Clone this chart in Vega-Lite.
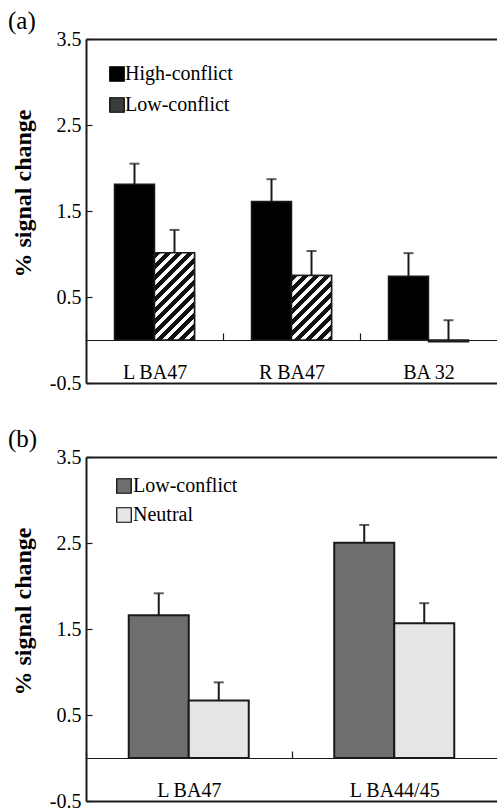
{
  "$schema": "https://vega.github.io/schema/vega-lite/v6.json",
  "background": "white",
  "padding": {"left": 8, "top": 9, "right": 0, "bottom": 0},
  "spacing": 34,
  "resolve": {"scale": {"fill": "independent", "xOffset": "independent"}},
  "datasets": {
    "a": [
      {"region": "L BA47", "condition": "High-conflict", "value": 1.81, "upper": 2.05},
      {"region": "L BA47", "condition": "Low-conflict", "value": 1.015, "upper": 1.28},
      {"region": "R BA47", "condition": "High-conflict", "value": 1.61, "upper": 1.87},
      {"region": "R BA47", "condition": "Low-conflict", "value": 0.75, "upper": 1.035},
      {"region": "BA 32", "condition": "High-conflict", "value": 0.74, "upper": 1.01},
      {"region": "BA 32", "condition": "Low-conflict", "value": -0.02, "upper": 0.23}
    ],
    "b": [
      {"region": "L BA47", "condition": "Low-conflict", "value": 1.66, "upper": 1.915},
      {"region": "L BA47", "condition": "Neutral", "value": 0.67, "upper": 0.88},
      {"region": "L BA44/45", "condition": "Low-conflict", "value": 2.503, "upper": 2.71},
      {"region": "L BA44/45", "condition": "Neutral", "value": 1.566, "upper": 1.8}
    ]
  },
  "vconcat": [
    {
      "title": {"text": "(a)"},
      "width": 411,
      "height": 344,
      "data": {"name": "a"},
      "resolve": {"axis": {"x": "independent"}},
      "layer": [
        {
          "mark": {"type": "bar", "stroke": "#1a1a1a", "strokeWidth": 1.5},
          "encoding": {
            "x": {"field": "region", "type": "nominal", "sort": ["L BA47", "R BA47", "BA 32"],
                  "scale": {"paddingInner": 0.416, "paddingOuter": 0.208},
                  "axis": {"orient": "bottom", "offset": -43, "title": null, "labelAngle": 0, "tickOffset": -68.5, "labelOffset": 68.5, "tickSize": -7, "labelPadding": 29, "domainWidth": 1.2, "labelBaseline": "top"}},
            "xOffset": {"field": "condition", "type": "nominal", "sort": ["High-conflict", "Low-conflict"],
                        "scale": {"domain": ["High-conflict", "Low-conflict"], "paddingInner": 0, "paddingOuter": 0}},
            "y": {"field": "value", "type": "quantitative",
                  "scale": {"domain": [-0.5, 3.5], "nice": false},
                  "axis": {"values": [-0.5, 0.5, 1.5, 2.5, 3.5], "format": ".1f", "labelExpr": "replace(datum.label, '\u2212', '-')", "tickSize": -6, "labelPadding": 11, "domainWidth": 2,
                           "title": "% signal change", "titleFontSize": 24, "titleFontWeight": "bold", "titleX": -56, "titleY": 154, "titleBaseline": "alphabetic", "titleAngle": -90}},
            "y2": {"datum": 0},
            "fill": {"field": "condition", "type": "nominal",
                     "scale": {"domain": ["High-conflict", "Low-conflict"], "range": ["#000000", "#3c3c3c"]},
                     "legend": {"title": null, "orient": "none", "legendX": 21, "legendY": 25, "symbolType": "square", "symbolSize": 210,
                                "rowPadding": 11, "labelOffset": -2, "symbolStrokeColor": "#000", "symbolStrokeWidth": 1.2}}
          }
        },
        {
          "transform": [{"filter": "datum.region === 'L BA47' && datum.condition === 'Low-conflict'"}],
          "mark": {"type": "bar", "stroke": "#1a1a1a", "strokeWidth": 1.5,
                   "fill": {"gradient": "linear", "x1": 0, "y1": 0, "x2": 0.547, "y2": 1.206, "stops": [
                     {"offset": 0, "color": "#111"}, {"offset": 0.0477, "color": "#111"}, {"offset": 0.0477, "color": "#fff"}, {"offset": 0.0867, "color": "#fff"},
                     {"offset": 0.0867, "color": "#111"}, {"offset": 0.1344, "color": "#111"}, {"offset": 0.1344, "color": "#fff"}, {"offset": 0.1734, "color": "#fff"},
                     {"offset": 0.1734, "color": "#111"}, {"offset": 0.2211, "color": "#111"}, {"offset": 0.2211, "color": "#fff"}, {"offset": 0.2601, "color": "#fff"},
                     {"offset": 0.2601, "color": "#111"}, {"offset": 0.3078, "color": "#111"}, {"offset": 0.3078, "color": "#fff"}, {"offset": 0.3468, "color": "#fff"},
                     {"offset": 0.3468, "color": "#111"}, {"offset": 0.3945, "color": "#111"}, {"offset": 0.3945, "color": "#fff"}, {"offset": 0.4335, "color": "#fff"},
                     {"offset": 0.4335, "color": "#111"}, {"offset": 0.4812, "color": "#111"}, {"offset": 0.4812, "color": "#fff"}, {"offset": 0.5202, "color": "#fff"},
                     {"offset": 0.5202, "color": "#111"}, {"offset": 0.5679, "color": "#111"}, {"offset": 0.5679, "color": "#fff"}, {"offset": 0.6069, "color": "#fff"},
                     {"offset": 0.6069, "color": "#111"}, {"offset": 0.6546, "color": "#111"}, {"offset": 0.6546, "color": "#fff"}, {"offset": 0.6936, "color": "#fff"},
                     {"offset": 0.6936, "color": "#111"}, {"offset": 0.7413, "color": "#111"}, {"offset": 0.7413, "color": "#fff"}, {"offset": 0.7803, "color": "#fff"},
                     {"offset": 0.7803, "color": "#111"}, {"offset": 0.828, "color": "#111"}, {"offset": 0.828, "color": "#fff"}, {"offset": 0.867, "color": "#fff"},
                     {"offset": 0.867, "color": "#111"}, {"offset": 0.9147, "color": "#111"}, {"offset": 0.9147, "color": "#fff"}, {"offset": 0.9537, "color": "#fff"},
                     {"offset": 0.9537, "color": "#111"}, {"offset": 1, "color": "#111"}]}},
          "encoding": {
            "x": {"field": "region", "type": "nominal", "sort": ["L BA47", "R BA47", "BA 32"], "axis": null},
            "xOffset": {"field": "condition", "type": "nominal", "sort": ["High-conflict", "Low-conflict"]},
            "y": {"field": "value", "type": "quantitative"},
            "y2": {"datum": 0}
          }
        },
        {
          "transform": [{"filter": "datum.region === 'R BA47' && datum.condition === 'Low-conflict'"}],
          "mark": {"type": "bar", "stroke": "#1a1a1a", "strokeWidth": 1.5,
                   "fill": {"gradient": "linear", "x1": 0, "y1": 0, "x2": 0.72, "y2": 1.172, "stops": [
                     {"offset": 0, "color": "#111"}, {"offset": 0.0581, "color": "#111"}, {"offset": 0.0581, "color": "#fff"}, {"offset": 0.1057, "color": "#fff"},
                     {"offset": 0.1057, "color": "#111"}, {"offset": 0.1638, "color": "#111"}, {"offset": 0.1638, "color": "#fff"}, {"offset": 0.2114, "color": "#fff"},
                     {"offset": 0.2114, "color": "#111"}, {"offset": 0.2695, "color": "#111"}, {"offset": 0.2695, "color": "#fff"}, {"offset": 0.3171, "color": "#fff"},
                     {"offset": 0.3171, "color": "#111"}, {"offset": 0.3752, "color": "#111"}, {"offset": 0.3752, "color": "#fff"}, {"offset": 0.4228, "color": "#fff"},
                     {"offset": 0.4228, "color": "#111"}, {"offset": 0.4809, "color": "#111"}, {"offset": 0.4809, "color": "#fff"}, {"offset": 0.5285, "color": "#fff"},
                     {"offset": 0.5285, "color": "#111"}, {"offset": 0.5866, "color": "#111"}, {"offset": 0.5866, "color": "#fff"}, {"offset": 0.6342, "color": "#fff"},
                     {"offset": 0.6342, "color": "#111"}, {"offset": 0.6923, "color": "#111"}, {"offset": 0.6923, "color": "#fff"}, {"offset": 0.7399, "color": "#fff"},
                     {"offset": 0.7399, "color": "#111"}, {"offset": 0.798, "color": "#111"}, {"offset": 0.798, "color": "#fff"}, {"offset": 0.8456, "color": "#fff"},
                     {"offset": 0.8456, "color": "#111"}, {"offset": 0.9037, "color": "#111"}, {"offset": 0.9037, "color": "#fff"}, {"offset": 0.9513, "color": "#fff"},
                     {"offset": 0.9513, "color": "#111"}, {"offset": 1, "color": "#111"}]}},
          "encoding": {
            "x": {"field": "region", "type": "nominal", "sort": ["L BA47", "R BA47", "BA 32"], "axis": null},
            "xOffset": {"field": "condition", "type": "nominal", "sort": ["High-conflict", "Low-conflict"]},
            "y": {"field": "value", "type": "quantitative"},
            "y2": {"datum": 0}
          }
        },
        {
          "mark": {"type": "rule", "stroke": "#1a1a1a", "strokeWidth": 2},
          "encoding": {
            "x": {"field": "region", "type": "nominal", "sort": ["L BA47", "R BA47", "BA 32"],
                  "axis": {"orient": "top", "labels": false, "ticks": false, "title": null, "domainWidth": 2}},
            "xOffset": {"field": "condition", "type": "nominal", "sort": ["High-conflict", "Low-conflict"]},
            "y": {"field": "value", "type": "quantitative"},
            "y2": {"field": "upper"}
          }
        },
        {
          "mark": {"type": "tick", "orient": "horizontal", "size": 10, "thickness": 2, "color": "#1a1a1a"},
          "encoding": {
            "x": {"field": "region", "type": "nominal", "sort": ["L BA47", "R BA47", "BA 32"],
                  "axis": {"orient": "bottom", "labels": false, "ticks": false, "title": null, "domainWidth": 2}},
            "xOffset": {"field": "condition", "type": "nominal", "sort": ["High-conflict", "Low-conflict"]},
            "y": {"field": "upper", "type": "quantitative"}
          }
        }
      ]
    },
    {
      "title": {"text": "(b)"},
      "width": 411,
      "height": 344,
      "data": {"name": "b"},
      "resolve": {"axis": {"x": "independent"}},
      "layer": [
        {
          "mark": {"type": "bar", "stroke": "#1a1a1a", "strokeWidth": 2},
          "encoding": {
            "x": {"field": "region", "type": "nominal", "sort": ["L BA47", "L BA44/45"],
                  "scale": {"paddingInner": 0.416, "paddingOuter": 0.208},
                  "axis": {"orient": "bottom", "offset": -43, "title": null, "labelAngle": 0, "tickOffset": -102.75, "labelOffset": 102.75, "tickSize": -7, "labelPadding": 29, "domainWidth": 1.2, "labelBaseline": "top"}},
            "xOffset": {"field": "condition", "type": "nominal", "sort": ["Low-conflict", "Neutral"],
                        "scale": {"domain": ["Low-conflict", "Neutral"], "paddingInner": 0, "paddingOuter": 0}},
            "y": {"field": "value", "type": "quantitative",
                  "scale": {"domain": [-0.5, 3.5], "nice": false},
                  "axis": {"values": [-0.5, 0.5, 1.5, 2.5, 3.5], "format": ".1f", "labelExpr": "replace(datum.label, '\u2212', '-')", "tickSize": -6, "labelPadding": 11, "domainWidth": 2,
                           "title": "% signal change", "titleFontSize": 24, "titleFontWeight": "bold", "titleX": -56, "titleY": 154, "titleBaseline": "alphabetic", "titleAngle": -90}},
            "y2": {"datum": 0},
            "fill": {"field": "condition", "type": "nominal",
                     "scale": {"domain": ["Low-conflict", "Neutral"], "range": ["#6e6e6e", "#e6e6e6"]},
                     "legend": {"title": null, "orient": "none", "legendX": 28, "legendY": 19, "symbolType": "square", "symbolSize": 210,
                                "rowPadding": 9, "labelOffset": -1, "symbolStrokeColor": "#000", "symbolStrokeWidth": 1.2}}
          }
        },
        {
          "mark": {"type": "rule", "stroke": "#1a1a1a", "strokeWidth": 2},
          "encoding": {
            "x": {"field": "region", "type": "nominal", "sort": ["L BA47", "L BA44/45"],
                  "axis": {"orient": "top", "labels": false, "ticks": false, "title": null, "domainWidth": 2}},
            "xOffset": {"field": "condition", "type": "nominal", "sort": ["Low-conflict", "Neutral"]},
            "y": {"field": "value", "type": "quantitative"},
            "y2": {"field": "upper"}
          }
        },
        {
          "mark": {"type": "tick", "orient": "horizontal", "size": 10, "thickness": 2, "color": "#1a1a1a"},
          "encoding": {
            "x": {"field": "region", "type": "nominal", "sort": ["L BA47", "L BA44/45"],
                  "axis": {"orient": "bottom", "labels": false, "ticks": false, "title": null, "domainWidth": 2}},
            "xOffset": {"field": "condition", "type": "nominal", "sort": ["Low-conflict", "Neutral"]},
            "y": {"field": "upper", "type": "quantitative"}
          }
        }
      ]
    }
  ],
  "config": {
    "font": "Liberation Serif",
    "view": {"stroke": null},
    "axis": {"labelFont": "Liberation Serif", "labelFontSize": 20, "labelColor": "#000", "titleFont": "Liberation Serif", "titleColor": "#000",
             "domainColor": "#1a1a1a", "tickColor": "#1a1a1a", "grid": false, "tickWidth": 1.2},
    "legend": {"labelFont": "Liberation Serif", "labelFontSize": 20, "labelColor": "#000", "symbolStrokeColor": "#000"},
    "title": {"font": "Liberation Serif", "fontSize": 25, "fontWeight": "normal", "color": "#000", "anchor": "start", "frame": "bounds", "dx": -3, "offset": -5}
  }
}
